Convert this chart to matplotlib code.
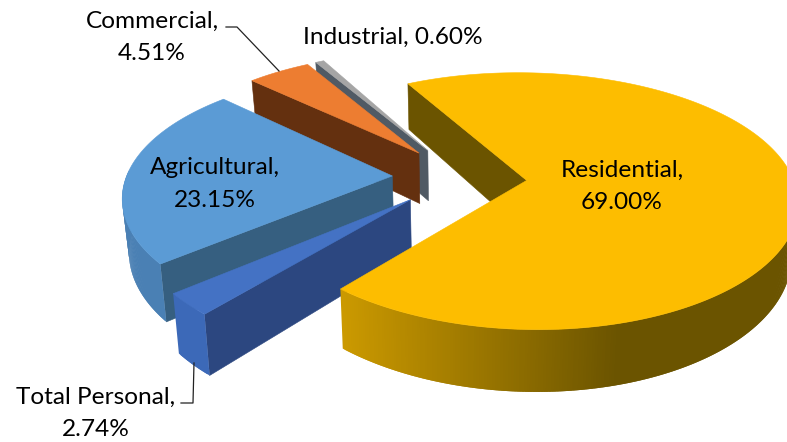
import matplotlib
matplotlib.use('Agg')
import matplotlib.pyplot as plt
from matplotlib.colors import LinearSegmentedColormap
import numpy as np

plt.rcParams['font.family'] = ['Lato', 'DejaVu Sans']

# Slices, clockwise from the start angle
names = ['Residential', 'Total Personal', 'Agricultural', 'Commercial', 'Industrial']
shares = [69.00, 2.74, 23.15, 4.51, 0.60]

top_colors = ['#FDBD00', '#4472C4', '#5B9BD5', '#ED7D31', '#A5A5A5']
wall_colors = ['#6B5400', '#2C4780', '#365F80', '#64300F', '#505A64']
side_colors = ['#6B5400', '#3C69B8', '#4A80B4', '#B05A20', '#7C7C7C']

# Projection of the pie plane on to the picture, in pixels
CX, CY = 459.5, 177.0
SX, SY = 266.0, 124.0
PERSP_X, PERSP_Y = 0.145, 0.161
EXPLODE = 0.253
THICK = 52.0
SHRINK = 0.98
START_ANGLE = 332.0


def project(u, v):
    w = 1 - PERSP_Y * v
    return CX + SX * u / (1 - PERSP_X * v), CY + SY * v / w, THICK / w


def lower(x, y, d):
    return CX + (x - CX) * SHRINK, y + d


def draw_slice(ax, a0, a1, top, wall, side, gradient=None):
    mid = np.radians((a0 + a1) / 2)
    t = np.radians(np.linspace(a0, a1, max(int(a1 - a0) * 2, 6)))
    au, av = EXPLODE * np.sin(mid), -EXPLODE * np.cos(mid)
    x, y, d = project(au + np.sin(t), av - np.cos(t))
    xb, yb = lower(x, y, d)

    ax_x, ax_y, ax_d = project(au, av)
    axb, ayb = lower(ax_x, ax_y, ax_d)

    # first radial wall, seen from the front
    ax.fill([ax_x, x[0], xb[0], axb], [ax_y, y[0], yb[0], ayb],
            color=wall, lw=0.4, zorder=1)

    # outer rim: only the part facing the viewer, each strip overlapping the next
    for i in range(len(t) - 2):
        if np.cos(t[i]) > 0.03:
            continue
        c = side if gradient is None else gradient(np.clip((x[i] - 340) / 280, 0, 1))
        ax.fill([x[i], x[i + 2], xb[i + 2], xb[i]], [y[i], y[i + 2], yb[i + 2], yb[i]],
                color=c, lw=0, zorder=1)

    # top face
    ax.fill(np.r_[ax_x, x], np.r_[ax_y, y], color=top, lw=0.4, zorder=1)


fig = plt.figure(figsize=(7.87, 4.42), dpi=100)
ax = fig.add_axes([0, 0, 1, 1])
ax.set_xlim(0, 787)
ax.set_ylim(442, 0)
ax.axis('off')

edges = START_ANGLE + np.cumsum([0] + shares) * 3.6
res_grad = LinearSegmentedColormap.from_list('res', ['#CC9A00', '#6B5400'])

# back slices first, residential last
for i in [4, 3, 2, 1, 0]:
    draw_slice(ax, edges[i], edges[i + 1], top_colors[i], wall_colors[i], side_colors[i],
               gradient=res_grad if i == 0 else None)

# leader lines
ax.plot([226, 237, 279], [27, 27, 71], color='#222222', lw=0.9)
ax.plot([181, 193, 194], [403, 403, 363], color='#222222', lw=0.9)

label_size = 17.6
spacing = 1.66
ax.text(152, 37, f'{names[3]},\n{shares[3]:.2f}%', ha='center', va='center',
        fontsize=label_size, linespacing=spacing)
ax.text(393, 37, f'{names[4]}, {shares[4]:.2f}%', ha='center', va='center',
        fontsize=label_size)
ax.text(215, 184, f'{names[2]},\n{shares[2]:.2f}%', ha='center', va='center',
        fontsize=label_size, linespacing=spacing)
ax.text(622, 186, f'{names[0]},\n{shares[0]:.2f}%', ha='center', va='center',
        fontsize=label_size, linespacing=spacing)
ax.text(96, 413, f'{names[1]},\n{shares[1]:.2f}%', ha='center', va='center',
        fontsize=label_size, linespacing=spacing)

fig.savefig('out.png', dpi=100)
